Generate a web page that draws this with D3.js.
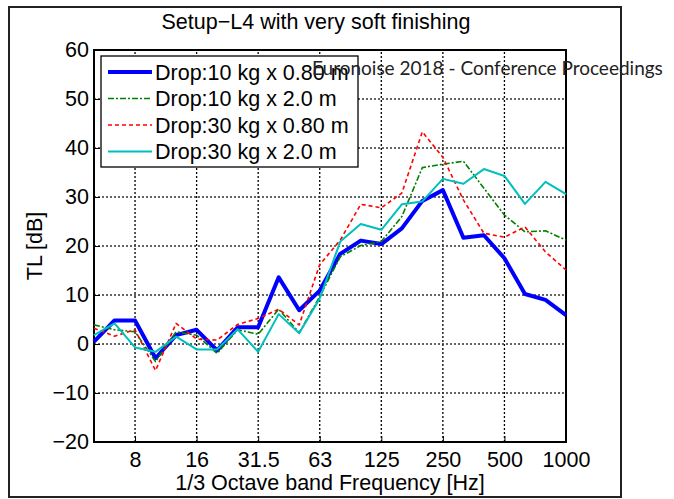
<!DOCTYPE html>
<html>
<head>
<meta charset="utf-8">
<script src="https://cdn.jsdelivr.net/npm/d3@7"></script>
<style>
  body { margin: 0; background: #fff; }
  text { font-family: "Liberation Sans", Arial, sans-serif; }
</style>
</head>
<body>
<div id="chart"></div>
<script>
// 1/3 octave bands, 5 Hz .. 1000 Hz
const bands = ["5", "6.3", "8", "10", "12.5", "16", "20", "25", "31.5", "40", "50", "63",
  "80", "100", "125", "160", "200", "250", "315", "400", "500", "630", "800", "1000"];
const tickBands = ["8", "16", "31.5", "63", "125", "250", "500", "1000"];
const yTicks = [-20, -10, 0, 10, 20, 30, 40, 50, 60];

// TL values [dB]
const drop10kg080 = [0.5, 4.8, 4.8, -2.9, 1.8, 2.9, -1.3, 3.4, 3.4, 13.6, 6.9, 10.9,
  18.4, 21.1, 20.4, 23.6, 29.2, 31.4, 21.7, 22.2, 17.5, 10.2, 9.0, 5.9];
const drop10kg20 = [3.9, 2.9, 2.5, -3.6, 2.5, 1.8, -1.9, 2.9, 2.0, 7.1, 2.3, 9.7,
  17.8, 20.1, 20.9, 26.0, 36.0, 36.7, 37.3, 31.8, 26.3, 22.9, 23.1, 21.2];
const drop30kg080 = [3.2, 1.6, 2.9, -5.4, 4.2, 1.0, 0.8, 4.0, 5.2, 7.1, 3.9, 16.2,
  21.2, 28.5, 27.8, 30.8, 43.3, 38.1, 29.4, 22.6, 21.8, 23.9, 18.8, 15.1];
const drop30kg20 = [1.8, 4.2, -0.7, -1.6, 1.5, -1.1, -1.1, 3.0, -1.6, 6.1, 2.2, 9.3,
  20.9, 24.5, 23.3, 28.5, 29.1, 33.7, 32.7, 35.7, 34.3, 28.6, 33.1, 30.6];

const series = [
  {name: "Drop:10 kg x 0.80 m", values: drop10kg080, color: "#0000ff", width: 4, dash: null},
  {name: "Drop:10 kg x 2.0 m", values: drop10kg20, color: "#008000", width: 1.6, dash: "6,2,2,2"},
  {name: "Drop:30 kg x 0.80 m", values: drop30kg080, color: "#ff0000", width: 1.6, dash: "4,3"},
  {name: "Drop:30 kg x 2.0 m", values: drop30kg20, color: "#00bfbf", width: 2, dash: null}
];

const W = 674, H = 499;
const FS = 21.5;
const svg = d3.select("#chart").append("svg")
  .attr("width", W).attr("height", H);

// figure frame
svg.append("rect")
  .attr("x", 9).attr("y", 7).attr("width", 612).attr("height", 490)
  .attr("fill", "none").attr("stroke", "#222").attr("stroke-width", 2);

const x = d3.scaleLinear().domain([0, bands.length - 1]).range([94, 566]);
const y = d3.scaleLinear().domain([-20, 60]).range([442, 50]);

const g = svg.append("g");

// grid
g.append("g").selectAll("line")
  .data(tickBands)
  .join("line")
    .attr("x1", d => x(bands.indexOf(d))).attr("x2", d => x(bands.indexOf(d)))
    .attr("y1", y(-20)).attr("y2", y(60))
    .attr("stroke", "#000").attr("stroke-width", 1.3).attr("stroke-dasharray", "2,2");
g.append("g").selectAll("line")
  .data(yTicks.slice(1, -1))
  .join("line")
    .attr("x1", x(0)).attr("x2", x(bands.length - 1))
    .attr("y1", d => y(d)).attr("y2", d => y(d))
    .attr("stroke", "#333").attr("stroke-width", 1.3).attr("stroke-dasharray", "2,2");

// axes
const xAxis = d3.axisBottom(x)
  .tickValues(tickBands.map(d => bands.indexOf(d)))
  .tickFormat(i => bands[i])
  .tickSizeInner(-6).tickSizeOuter(0).tickPadding(10);
const yAxis = d3.axisLeft(y)
  .tickValues(yTicks)
  .tickFormat(d => d < 0 ? "\u2212" + Math.abs(d) : d)
  .tickSizeInner(-6).tickSizeOuter(0).tickPadding(5);

const gx = g.append("g").attr("transform", `translate(0,${y(-20)})`).call(xAxis);
const gy = g.append("g").attr("transform", `translate(${x(0)},0)`).call(yAxis);
[gx, gy].forEach(a => {
  a.select(".domain").remove();
  a.selectAll("text").attr("font-size", FS).attr("fill", "#000")
    .style("font-family", "Liberation Sans, Arial, sans-serif");
  a.selectAll(".tick line").attr("stroke", "#000");
});

// box
g.append("rect")
  .attr("x", x(0)).attr("y", y(60))
  .attr("width", x(bands.length - 1) - x(0)).attr("height", y(-20) - y(60))
  .attr("fill", "none").attr("stroke", "#000").attr("stroke-width", 2);

// lines
const line = d3.line()
  .x((d, i) => x(i))
  .y(d => y(d));

g.append("g").selectAll("path")
  .data(series)
  .join("path")
    .attr("fill", "none")
    .attr("stroke", d => d.color)
    .attr("stroke-width", d => d.width)
    .attr("stroke-dasharray", d => d.dash)
    .attr("stroke-linejoin", "round")
    .attr("d", d => line(d.values));

// legend
const leg = g.append("g").attr("transform", "translate(101,56)");
leg.append("rect")
  .attr("width", 257).attr("height", 111)
  .attr("fill", "#fff").attr("stroke", "#000").attr("stroke-width", 1.3);
const row = leg.selectAll("g.row")
  .data(series)
  .join("g").attr("class", "row")
    .attr("transform", (d, i) => `translate(0,${16 + i * 26.5})`);
row.append("line")
  .attr("x1", 7).attr("x2", 51)
  .attr("stroke", d => d.color)
  .attr("stroke-width", d => d.width)
  .attr("stroke-dasharray", d => d.dash);
row.append("text")
  .attr("x", 54).attr("y", 7.5)
  .attr("font-size", FS)
  .text(d => d.name);

// titles
svg.append("text")
  .attr("x", 316).attr("y", 29)
  .attr("text-anchor", "middle").attr("font-size", FS)
  .text("Setup\u2212L4 with very soft finishing");
svg.append("text")
  .attr("x", 330).attr("y", 490)
  .attr("text-anchor", "middle").attr("font-size", FS)
  .text("1/3 Octave band Frequency [Hz]");
svg.append("text")
  .attr("transform", "translate(42,246) rotate(-90)")
  .attr("text-anchor", "middle").attr("font-size", FS)
  .text("TL [dB]");

// proceedings watermark
svg.append("text")
  .attr("x", 312).attr("y", 75)
  .attr("font-size", 19)
  .style("font-family", "Lato, 'Open Sans', sans-serif")
  .attr("fill", "#222")
  .text("Euronoise 2018 - Conference Proceedings");
</script>
</body>
</html>
